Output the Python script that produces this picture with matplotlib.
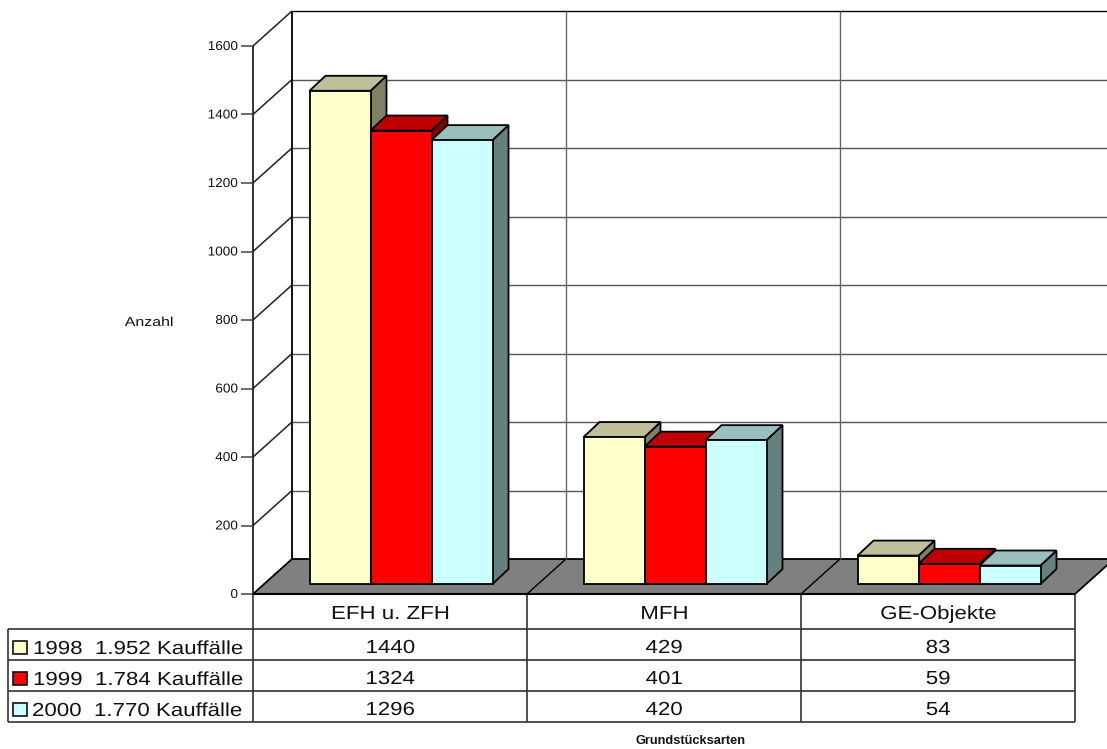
import matplotlib
matplotlib.use("Agg")
import matplotlib.pyplot as plt
from matplotlib.patches import Polygon, Rectangle
from matplotlib.patheffects import AbstractPathEffect
from matplotlib.transforms import Affine2D

plt.rcParams['font.family'] = ['Liberation Sans', 'DejaVu Sans']

categories = ['EFH u. ZFH', 'MFH', 'GE-Objekte']
series_labels = ['1998  1.952 Kauffälle', '1999  1.784 Kauffälle', '2000  1.770 Kauffälle']
values_1998 = [1440, 429, 83]
values_1999 = [1324, 401, 59]
values_2000 = [1296, 420, 54]
series_values = [values_1998, values_1999, values_2000]
yticks = [0, 200, 400, 600, 800, 1000, 1200, 1400, 1600]

W, H = 1107, 749
X0, CW = 253, 274
Y0, PPU = 594, 548 / 1600
WALL_DX, WALL_DY = 39, 35
BAR_DX, BAR_DY = 16, 15
FLOOR_DX, FLOOR_DY = 11, 10
BAR_W = 61
front = ['#FFFFCC', '#FF0000', '#CCFFFF']
top = ['#BFBF99', '#BF0000', '#99BFBF']
side = ['#808066', '#800000', '#668080']


class Wide(AbstractPathEffect):
    """Draw a text wider, as the reference's tracked-out lettering is."""

    def __init__(self, sx, anchor=0.0):
        super().__init__()
        self.sx, self.anchor = sx, anchor

    def draw_path(self, renderer, gc, tpath, affine, rgbFace=None):
        w = tpath.get_extents().width
        shift = -w * (self.sx - 1) * self.anchor
        aff = Affine2D().scale(self.sx, 1).translate(shift, 0) + affine
        renderer.draw_path(gc, tpath, aff, rgbFace)


fig = plt.figure(figsize=(W / 100, H / 100), dpi=100)
ax = fig.add_axes([0, 0, 1, 1])
ax.set_xlim(-X0 / CW, (W - X0) / CW)
ax.set_ylim((Y0 - H) / PPU, Y0 / PPU)
ax.axis('off')
px = Affine2D().scale(1, -1).translate(0, H)


def P(x, v, dx=0, dy=0):
    """category units + value units, offset by depth in pixels"""
    return (x + dx / CW, v + dy / PPU)


def poly(pts, fc, ec='black', lw=1.3, z=3):
    ax.add_patch(Polygon(pts, closed=True, facecolor=fc, edgecolor=ec, linewidth=lw,
                         joinstyle='miter', zorder=z, clip_on=True))


def line(a, b, color='#333333', lw=1.2, z=1, trans=None):
    ax.plot([a[0], b[0]], [a[1], b[1]], color=color, lw=lw, zorder=z, solid_capstyle='butt',
            transform=trans if trans is not None else ax.transData)


vmax = yticks[-1]
# floor
poly([P(0, 0), P(0, 0, WALL_DX, WALL_DY), P(3, 0, WALL_DX, WALL_DY), P(3, 0)], '#808080', z=1)
for i in (1, 2):
    line(P(i, 0), P(i, 0, WALL_DX, WALL_DY), color='black', lw=1.0, z=2)

# walls and grid
for t in yticks[1:]:
    c = '#000000' if t == vmax else '#555555'
    line(P(0, t), P(0, t, WALL_DX, WALL_DY), color='#222222', lw=1.1)
    line(P(0, t, WALL_DX, WALL_DY), P(3, t, WALL_DX, WALL_DY), color=c, lw=1.0)
for i in (0, 1, 2):
    line(P(i, 0, WALL_DX, WALL_DY), P(i, vmax, WALL_DX, WALL_DY),
         color='#111111' if i == 0 else '#666666', lw=1.4 if i == 0 else 1.0)
line(P(0, 0), P(0, vmax), color='#111111', lw=1.2)

# tick marks and labels
for t in yticks:
    line(P(0, t, -12), P(0, t), color='#444444', lw=1.1)
    ax.text(*P(0, t, -15, -1), str(t), ha='right', va='center', fontsize=9.3, color='#111111',
            path_effects=[Wide(1.05, 1.0)])

# bars
for c in range(3):
    for s in range(3):
        v = series_values[s][c]
        xl = FLOOR_DX + (CW - 3 * BAR_W) / 2 + s * BAR_W
        xr = xl + BAR_W
        yb = FLOOR_DY
        poly([P(c, 0, xr, yb), P(c, 0, xr + BAR_DX, yb + BAR_DY),
              P(c, v, xr + BAR_DX, yb + BAR_DY), P(c, v, xr, yb)], side[s], z=5 + s)
        poly([P(c, v, xl, yb), P(c, v, xr, yb), P(c, v, xr + BAR_DX, yb + BAR_DY),
              P(c, v, xl + BAR_DX, yb + BAR_DY)], top[s], z=5 + s)
        poly([P(c, 0, xl, yb), P(c, 0, xr, yb), P(c, v, xr, yb), P(c, v, xl, yb)], front[s], z=5 + s)

# data table
rows_y = [629, 660, 691, 722]
col_x = [X0 + i * CW for i in range(4)]
TBL_L = 8
TC = '#333333'
for y in rows_y:
    line((TBL_L, y), (col_x[-1], y), color=TC, lw=1.2, z=2, trans=px)
line((TBL_L, rows_y[0]), (TBL_L, rows_y[-1]), color=TC, lw=1.2, z=2, trans=px)
for x in col_x:
    line((x, Y0), (x, rows_y[-1]), color=TC, lw=1.2, z=2, trans=px)
line((X0, Y0), (col_x[-1], Y0), color='black', lw=1.5, z=4, trans=px)

TFS = 13.6
SX = 1.18
for i, name in enumerate(categories):
    ax.text(col_x[i] + CW / 2, 619, name, transform=px, ha='center', va='baseline', fontsize=TFS,
            color='#111111', path_effects=[Wide(SX, 0.5)])
value_base = [653, 684, 715]
label_base = [654, 685, 716]
label_x = [33, 33, 32]
for s in range(3):
    ax.add_patch(Rectangle((13, rows_y[s] + 12), 14, 13, transform=px, facecolor=front[s],
                           edgecolor='#111111', linewidth=1.2, zorder=6))
    ax.text(label_x[s], label_base[s], series_labels[s], transform=px, ha='left', va='baseline',
            fontsize=TFS, color='#111111', path_effects=[Wide(SX, 0.0)])
    for c in range(3):
        ax.text(col_x[c] + CW / 2, value_base[s], str(series_values[s][c]), transform=px,
                ha='center', va='baseline', fontsize=TFS, color='#111111',
                path_effects=[Wide(SX, 0.5)])

ax.text(149, 323, 'Anzahl', transform=px, ha='center', va='center', fontsize=9.4, color='#111111',
        path_effects=[Wide(1.22, 0.5)])
ax.text(691, 741, 'Grundstücksarten', transform=px, ha='center', va='center', fontsize=9.2,
        fontweight='bold', color='#111111')

fig.savefig('out.png', dpi=100)
